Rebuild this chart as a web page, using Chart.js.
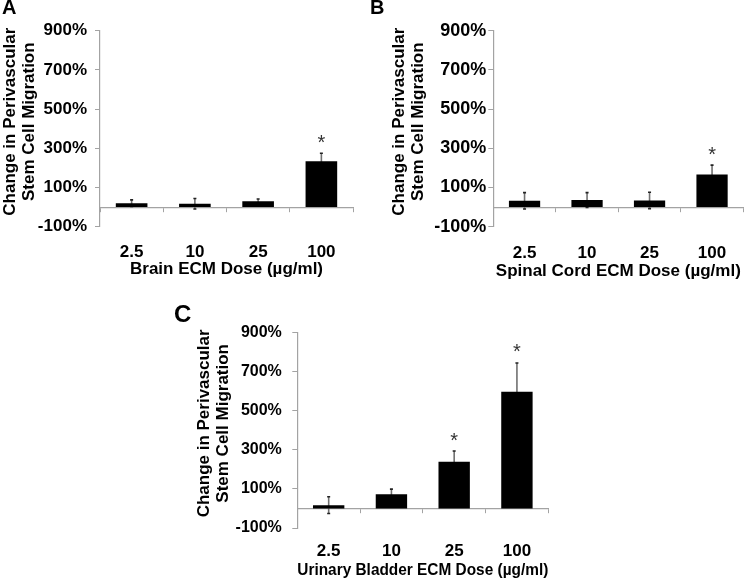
<!DOCTYPE html>
<html>
<head>
<meta charset="utf-8">
<script src="https://cdn.jsdelivr.net/npm/chart.js@4.4.1/dist/chart.umd.min.js"></script>
<style>
body { margin: 0; background: #fff; width: 745px; height: 581px; overflow: hidden; position: relative; }
canvas { position: absolute; }
.lbl { position: absolute; font-family: "Liberation Sans", Arial, sans-serif; font-weight: bold; color: #000; z-index: 2; }
</style>
</head>
<body>
<canvas id="chartA" width="370" height="290" style="left:0;top:0"></canvas>
<canvas id="chartB" width="375" height="290" style="left:370px;top:0"></canvas>
<canvas id="chartC" width="380" height="291" style="left:180px;top:290px"></canvas>
<div class="lbl" style="left:2px;top:-3px;font-size:20px;line-height:20px">A</div>
<div class="lbl" style="left:370px;top:-3px;font-size:20px;line-height:20px">B</div>
<div class="lbl" style="left:174px;top:302px;font-size:24px;line-height:24px">C</div>
<script>
// doses (µg/ml)
var doses = ['2.5', '10', '25', '100'];

// change in migration (%) and error (%)
var brainMean = [20, 17, 30, 234];
var brainErr = [17, 27, 11, 41];
var brainSig = [false, false, false, true];

var spinalMean = [32, 36, 34, 166];
var spinalErr = [42, 38, 42, 48];
var spinalSig = [false, false, false, true];

var bladderMean = [17, 73, 239, 598];
var bladderErr = [43, 26, 55, 147];
var bladderSig = [false, false, true, true];

var yTicks = [-100, 100, 300, 500, 700, 900];
var yTitle = ['Change in Perivascular', 'Stem Cell Migration'];

var FONT = '"Liberation Sans", Arial, sans-serif';
var axisGray = '#a3a3a3';

// error bars go under the bars, asterisks on top
var errorBars = {
    id: 'errorBars',
    beforeDatasetsDraw: function (chart) {
        var ctx = chart.ctx;
        var y = chart.scales.y;
        var ds = chart.data.datasets[0];
        var meta = chart.getDatasetMeta(0);
        ctx.save();
        for (var i = 0; i < ds.data.length; i++) {
            var x = meta.data[i].x;
            var top = y.getPixelForValue(ds.data[i] + ds.errors[i]);
            var bot = y.getPixelForValue(ds.data[i] - ds.errors[i]);
            ctx.strokeStyle = '#707070';
            ctx.lineWidth = 1.6;
            ctx.beginPath();
            ctx.moveTo(x, top);
            ctx.lineTo(x, bot);
            ctx.stroke();
            ctx.strokeStyle = '#222';
            ctx.beginPath();
            ctx.moveTo(x - 1.5, top);
            ctx.lineTo(x + 1.5, top);
            ctx.moveTo(x - 1.5, bot);
            ctx.lineTo(x + 1.5, bot);
            ctx.stroke();
        }
        ctx.restore();
    },
    afterDatasetsDraw: function (chart) {
        var ctx = chart.ctx;
        var y = chart.scales.y;
        var ds = chart.data.datasets[0];
        var meta = chart.getDatasetMeta(0);
        ctx.save();
        ctx.font = '20px ' + FONT;
        ctx.fillStyle = '#333';
        ctx.textAlign = 'center';
        ctx.textBaseline = 'alphabetic';
        for (var i = 0; i < ds.data.length; i++) {
            if (!ds.sig[i]) continue;
            var top = y.getPixelForValue(ds.data[i] + ds.errors[i]);
            ctx.fillText('*', meta.data[i].x, top - 4.5);
        }
        ctx.restore();
    }
};

// two-line y title, sits a little above the middle of the axis
var yTitlePlugin = {
    id: 'yTitle',
    afterDraw: function (chart) {
        var ctx = chart.ctx;
        var area = chart.chartArea;
        var x = chart.options.titleX;
        var yc = (area.top + area.bottom) / 2 - 7;
        ctx.save();
        ctx.translate(x, yc);
        ctx.rotate(-Math.PI / 2);
        ctx.font = 'bold 17px ' + FONT;
        ctx.fillStyle = '#000';
        ctx.textAlign = 'center';
        ctx.textBaseline = 'middle';
        ctx.fillText(yTitle[0], 0, 0);
        ctx.fillText(yTitle[1], 0, 18.7);
        ctx.restore();
    }
};

function makePanel(id, means, errs, sig, xTitle, c) {
    var ctx = document.getElementById(id).getContext('2d');
    return new Chart(ctx, {
        type: 'bar',
        data: {
            labels: doses,
            datasets: [{
                data: means,
                errors: errs,
                sig: sig,
                backgroundColor: '#000',
                borderWidth: 0,
                barPercentage: 0.5,
                categoryPercentage: 1.0
            }]
        },
        options: {
            responsive: false,
            animation: false,
            devicePixelRatio: 1,
            titleX: c.titleX,
            layout: { padding: { left: 0, right: c.padR, top: c.padT, bottom: c.padB } },
            plugins: { legend: { display: false }, tooltip: { enabled: false } },
            scales: {
                x: {
                    grid: { display: false, drawTicks: false },
                    border: { display: false },
                    ticks: { color: '#000', padding: c.xPad, font: { family: FONT, size: 17, weight: 'bold' } },
                    title: {
                        display: true, text: xTitle, color: '#000', padding: 0,
                        font: { family: FONT, size: 17, weight: 'bold', lineHeight: 1.2 }
                    },
                    afterFit: function (s) { s.height = c.xHeight; }
                },
                xz: {
                    type: 'category',
                    labels: doses,
                    position: { y: 0 },
                    offset: true,
                    grid: { offset: true, drawOnChartArea: false, drawTicks: true, tickLength: 4, color: axisGray, lineWidth: 1 },
                    border: { display: true, color: axisGray, width: 1.2 },
                    ticks: { display: false }
                },
                y: {
                    min: -100,
                    max: 900,
                    afterBuildTicks: function (s) {
                        s.ticks = yTicks.map(function (v) { return { value: v }; });
                    },
                    grid: { drawOnChartArea: false, drawTicks: true, tickLength: 5, color: axisGray, lineWidth: 1 },
                    border: { display: true, color: axisGray, width: 1.2 },
                    ticks: {
                        color: '#000', padding: c.tickPad,
                        font: { family: FONT, size: c.tickSize, weight: 'bold' },
                        callback: function (v) { return v + '%'; }
                    },
                    afterFit: function (s) { s.width = c.yWidth; }
                }
            }
        },
        plugins: [errorBars, yTitlePlugin]
    });
}

makePanel('chartA', brainMean, brainErr, brainSig, 'Brain ECM Dose (µg/ml)',
    { padR: 17, padT: 30.7, padB: 10.3, xHeight: 53, yWidth: 100, xPad: 15, tickPad: 8, tickSize: 17, titleX: 10.5 });
makePanel('chartB', spinalMean, spinalErr, spinalSig, 'Spinal Cord ECM Dose (µg/ml)',
    { padR: 1.7, padT: 30.7, padB: 8.3, xHeight: 55, yWidth: 123.3, xPad: 16, tickPad: 2, tickSize: 18, titleX: 29.5 });
makePanel('chartC', bladderMean, bladderErr, bladderSig, 'Urinary Bladder ECM Dose (µg/ml)',
    { padR: 11.7, padT: 42.7, padB: 0, xHeight: 53, yWidth: 117.3, xPad: 13.5, tickPad: 10.5, tickSize: 16, titleX: 24.5 });
</script>
</body>
</html>
